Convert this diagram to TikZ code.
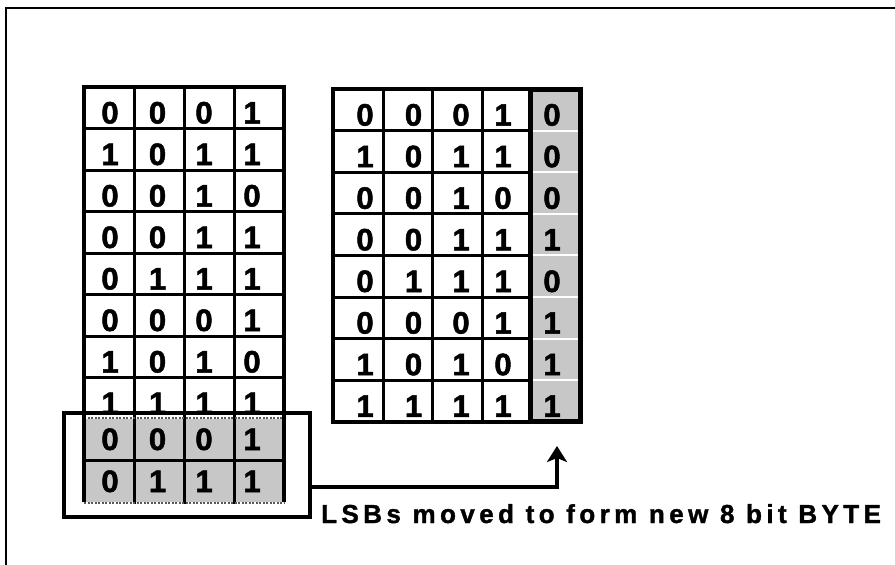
\documentclass[tikz,border=0pt]{standalone}
\usepackage{fontspec}
\setmainfont{Liberation Sans}
\newfontfamily\digitfont[BoldFont={Liberation Sans Bold}, BoldFeatures={FakeBold=1.6}]{Liberation Sans}
\newfontfamily\capfont[LetterSpace=17, BoldFont={Liberation Sans Bold}, BoldFeatures={FakeBold=1.4}]{Liberation Sans}
\usetikzlibrary{arrows.meta}

\tikzset{
  gridline/.style={line width=3pt, line cap=rect},
  outerline/.style={line width=3.6pt, line join=miter},
  lsbline/.style={gray!70!black, line width=1.6pt, dash pattern=on 2pt off 1.5pt},
  shadefill/.style={fill=black!22},
  digit/.style={font=\digitfont\bfseries\fontsize{31}{31}\selectfont, anchor=base, inner sep=0pt},
  caption/.style={font=\capfont\bfseries\fontsize{26}{26}\selectfont, anchor=base west, inner sep=0pt},
  lsbbox/.style={draw, line width=3.4pt, minimum width=246pt, minimum height=104pt, inner sep=0pt},
  movearrow/.style={line width=3.4pt, -{Stealth[length=16pt, width=20pt, inset=4pt]}},
}

\begin{document}
\begin{tikzpicture}[x=1pt, y=-1pt]
\useasboundingbox (0,0) rectangle (895,565);

% page frame (top and left edges only)
\draw[line width=1.5pt] (6,565) -- (6,8) -- (895,8);

% ---------- left table: ten 4-bit words ----------
\fill[shadefill] (84,419) rectangle (284,502);
\foreach \x in {134,184,234} \draw[gridline] (\x,87) -- (\x,502);
\foreach \k in {1,...,7} \draw[gridline] (84,87+41.5*\k) -- (284,87+41.5*\k);
\draw[gridline] (84,460.5) -- (284,460.5);
\draw[lsbline] (84,418) -- (284,418);
\draw[lsbline] (84,503) -- (284,503);
\draw[outerline] (84,502) -- (84,87) -- (284,87) -- (284,502);

\foreach \r/\bits in {1/{0,0,0,1},2/{1,0,1,1},3/{0,0,1,0},4/{0,0,1,1},
                      5/{0,1,1,1},6/{0,0,0,1},7/{1,0,1,0},8/{1,1,1,1}} {
  \foreach \b [count=\c] in \bits {
    \pgfmathsetmacro{\dx}{{110,157.5,204,252}[\c-1]}
    \node[digit] (l-\r-\c) at (\dx, 87+41.5*\r-5) {\b};
  }
}
\foreach \r/\y/\bits in {9/450/{0,0,0,1},10/492/{0,1,1,1}} {
  \foreach \b [count=\c] in \bits {
    \pgfmathsetmacro{\dx}{{110,157.5,204,252}[\c-1]}
    \node[digit] (l-\r-\c) at (\dx, \y) {\b};
  }
}

% ---------- right table: eight 5-bit words ----------
\fill[shadefill] (530,89) rectangle (580,421.8);
\foreach \x in {383,432,482} \draw[gridline] (\x,89) -- (\x,421.8);
\foreach \k in {1,...,7} {
  \draw[gridline] (333,89+41.6*\k) -- (530,89+41.6*\k);
  \draw[white, line width=2pt] (532.5,89+41.6*\k) -- (577.5,89+41.6*\k);
}
\draw[outerline] (333,89) rectangle (580,421.8);
\draw[line width=5pt] (530,89) rectangle (580,421.8);

\foreach \r/\bits in {1/{0,0,0,1,0},2/{1,0,1,1,0},3/{0,0,1,0,0},4/{0,0,1,1,1},
                      5/{0,1,1,1,0},6/{0,0,0,1,1},7/{1,0,1,0,1},8/{1,1,1,1,1}} {
  \foreach \b [count=\c] in \bits {
    \pgfmathsetmacro{\dx}{{365,413.5,461,503,552}[\c-1]}
    \node[digit] (r-\r-\c) at (\dx, 89+41.6*\r-5) {\b};
  }
}

% ---------- least significant bits and their move ----------
\node[lsbbox] (lsb) at (187,465) {};
\coordinate (turn) at (557,487);
\coordinate (tgt) at (557,446);
\draw[movearrow] (lsb.east |- turn) -- (turn) -- (tgt);

\node[caption] (cap) at (321,523) {LSBs moved to form new 8 bit BYTE};
\end{tikzpicture}
\end{document}
